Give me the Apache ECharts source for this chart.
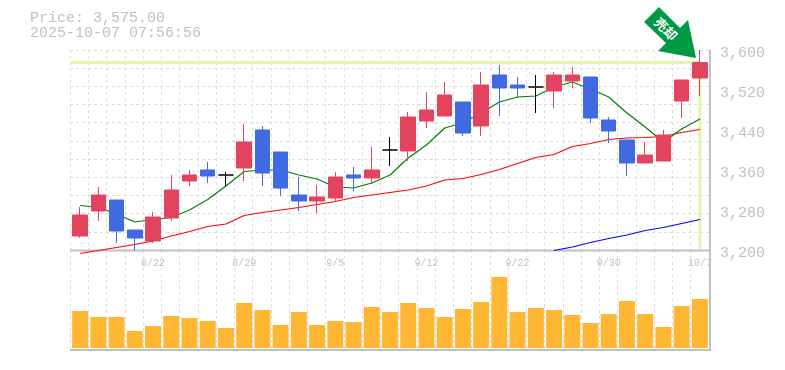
<!DOCTYPE html>
<html>
<head>
<meta charset="utf-8">
<style>
    html, body { margin: 0; padding: 0; background: #fff; }
    #chart { width: 785px; height: 370px; }
</style>
<script src="https://cdn.jsdelivr.net/npm/echarts@6/dist/echarts.min.js"></script>
</head>
<body>
<div id="chart"></div>
<script>
const dates = ['8/18','8/19','8/20','8/21','8/22','8/25','8/26','8/27','8/28','8/29','9/1','9/2','9/3','9/4','9/5','9/8','9/9','9/10','9/11','9/12','9/16','9/17','9/18','9/19','9/22','9/24','9/25','9/26','9/29','9/30','10/1','10/2','10/3','10/6','10/7'];
const opens = [3228,3278,3300,3240,3218,3264,3338,3360,3350,3364,3440,3396,3310,3298,3304,3350,3344,3400,3398,3458,3468,3496,3448,3550,3530,3526,3518,3538,3546,3460,3420,3374,3378,3498,3544];
const closes = [3270,3310,3238,3224,3266,3320,3350,3348,3350,3416,3354,3324,3298,3306,3346,3344,3360,3400,3466,3480,3510,3434,3530,3524,3524,3526,3550,3550,3464,3438,3374,3390,3430,3540,3575];
const lows = [3224,3258,3214,3199,3214,3258,3328,3334,3328,3338,3328,3308,3278,3274,3296,3318,3332,3368,3378,3444,3468,3428,3428,3468,3504,3474,3484,3524,3454,3414,3348,3374,3378,3464,3508];
const highs = [3286,3326,3300,3240,3276,3350,3360,3376,3356,3452,3448,3396,3346,3330,3356,3366,3406,3426,3476,3516,3536,3496,3556,3570,3546,3550,3556,3566,3546,3466,3420,3416,3440,3540,3600];
const maShort = [3289,3285,3272,3256,3261,3265,3280,3301,3328,3357,3360,3360,3350,3342,3326,3324,3334,3350,3384,3410,3444,3454,3474,3496,3506,3508,3526,3536,3522,3506,3474,3446,3416,3442,3462];
const maMid = [3193,3199,3205,3211,3218,3228,3237,3247,3252,3269,3275,3280,3285,3291,3297,3305,3310,3315,3320,3328,3340,3343,3351,3361,3373,3385,3391,3407,3413,3421,3424,3425,3427,3435,3441];
const maLong = [null,null,null,null,null,null,null,null,null,null,null,null,null,null,null,null,null,null,null,null,null,null,null,null,null,null,3199,3206,3215,3223,3230,3239,3245,3253,3261];
const volumes = [37,31,31,17,22,32,30,27,20,45,38,23,36,23,27,26,41,36,45,40,31,39,46,71,36,40,38,33,25,34,47,34,21,42,49];
const dateTicks = ['8/22','8/29','9/5','9/12','9/22','9/30','10/7'];
const priceTicks = [3200,3280,3360,3440,3520,3600];
const lastPrice = 3575;
const priceTitle = 'Price: 3,575.00';
const timeTitle = '2025-10-07 07:56:56';
const signalText = '売却';

const GREY = '#c0c0c0';
const GRID_LINE = { show: true, interval: 0, lineStyle: { color: '#dcdcdc', width: 1, type: [3, 3] } };
const MONO = '"Liberation Mono", monospace';
const NO_AXIS = { axisLine: { show: false }, axisTick: { show: false }, axisLabel: { show: false } };

const chart = echarts.init(document.getElementById('chart'), null, { renderer: 'canvas' });

const candles = opens.map((o, i) => [o, closes[i], lows[i], highs[i]]);

chart.setOption({
    animation: false,
    backgroundColor: '#fff',
    grid: [
        { left: 71, top: 50, width: 638, height: 200 },
        { left: 71, top: 250, width: 638, height: 100 },
        // dashed background sits one pixel left of the bars
        { left: 70, top: 50, width: 639, height: 200 },
        { left: 70, top: 250, width: 639, height: 100 }
    ],
    xAxis: [
        {
            type: 'category', gridIndex: 0, data: dates,
            axisLine: { show: false }, axisTick: { show: false }, splitLine: { show: false },
            axisLabel: {
                interval: (i, v) => dateTicks.includes(v),
                color: GREY, fontFamily: MONO, fontSize: 10, margin: 8, hideOverlap: false
            }
        },
        Object.assign({ type: 'category', gridIndex: 1, data: dates, splitLine: { show: false } }, NO_AXIS),
        Object.assign({ type: 'category', gridIndex: 2, data: dates, splitLine: GRID_LINE }, NO_AXIS),
        Object.assign({ type: 'category', gridIndex: 3, data: dates, splitLine: GRID_LINE }, NO_AXIS)
    ],
    yAxis: [
        {
            type: 'value', gridIndex: 0, position: 'right', min: 3200, max: 3600, interval: 80,
            axisLine: { show: false }, axisTick: { show: false }, splitLine: { show: false },
            axisLabel: {
                color: GREY, fontFamily: MONO, fontSize: 15, margin: 11,
                verticalAlign: 'top', lineHeight: 7,
                formatter: v => priceTicks.includes(v) ? v.toLocaleString('en-US') : ''
            }
        },
        Object.assign({ type: 'value', gridIndex: 1, position: 'right', min: -2, max: 98, splitLine: { show: false } }, NO_AXIS),
        // only carries the 11 dashed rows, they do not line up with the price ticks
        Object.assign({ type: 'value', gridIndex: 2, min: 0, max: 11, interval: 1, splitLine: GRID_LINE }, NO_AXIS),
        Object.assign({ type: 'value', gridIndex: 3, min: 0, max: 1, splitLine: { show: false } }, NO_AXIS)
    ],
    series: [
        {
            type: 'line', xAxisIndex: 0, yAxisIndex: 0, data: maLong, clip: false, z: 3,
            showSymbol: false, connectNulls: false,
            lineStyle: { color: '#0000ff', width: 1.2 }
        },
        {
            type: 'line', xAxisIndex: 0, yAxisIndex: 0, data: maMid, clip: false, z: 3,
            showSymbol: false,
            lineStyle: { color: '#ff0000', width: 1.2 }
        },
        {
            type: 'line', xAxisIndex: 0, yAxisIndex: 0, data: maShort, clip: false, z: 3,
            showSymbol: false,
            lineStyle: { color: '#008000', width: 1.2 }
        },
        {
            type: 'candlestick', xAxisIndex: 0, yAxisIndex: 0, data: candles, clip: false, z: 4,
            barWidth: 15,
            itemStyle: {
                color: '#e2435f', borderColor: '#e2435f',
                color0: '#4169e1', borderColor0: '#4169e1',
                borderColorDoji: '#000000', borderWidth: 1
            }
        },
        {
            type: 'bar', xAxisIndex: 1, yAxisIndex: 1, data: volumes, barWidth: 16, z: 3,
            itemStyle: { color: '#ffb733' }
        }
    ]
});

// cross hair on the last price, behind the candles
const lastIdx = dates.length - 1;
const hair = chart.convertToPixel({ xAxisIndex: 0, yAxisIndex: 0 }, [lastIdx, lastPrice]);
const frame = { stroke: GREY, lineWidth: 2 };

chart.setOption({
    graphic: [
        { type: 'line', z: 1, shape: { x1: 70, y1: hair[1], x2: hair[0], y2: hair[1] }, style: { stroke: '#e2f5a9', lineWidth: 3 } },
        { type: 'line', z: 1, shape: { x1: hair[0], y1: hair[1], x2: hair[0], y2: 249 }, style: { stroke: '#e2f5a9', lineWidth: 3 } },
        { type: 'line', z: 2, shape: { x1: 70, y1: 250.5, x2: 711, y2: 250.5 }, style: frame },
        { type: 'line', z: 2, shape: { x1: 70, y1: 350, x2: 711, y2: 350 }, style: frame },
        { type: 'line', z: 2, shape: { x1: 710, y1: 50, x2: 710, y2: 351 }, style: frame },
        { type: 'text', z: 5, x: 30, y: 11, style: { text: priceTitle, fill: GREY, font: '15px ' + MONO } },
        { type: 'text', z: 5, x: 30, y: 26, style: { text: timeTitle, fill: GREY, font: '15px ' + MONO } },
        {
            type: 'polygon', z: 6,
            shape: { points: [[659, 7], [644, 22], [666, 43], [658, 51], [696, 58], [688, 20], [680, 28]] },
            style: { fill: '#009a44' }
        },
        {
            type: 'text', z: 7, x: 666, y: 29, rotation: -Math.PI / 4,
            style: {
                text: signalText, fill: '#fff', align: 'center', verticalAlign: 'middle',
                font: 'bold 13px "Noto Sans CJK JP"'
            }
        }
    ]
});
</script>
</body>
</html>
